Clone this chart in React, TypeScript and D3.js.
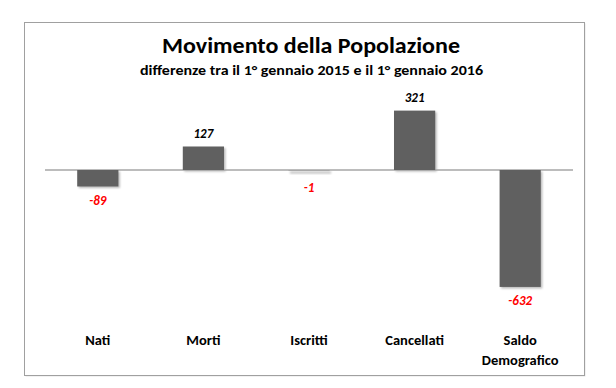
import React from "react";
import * as d3 from "d3";

const width = 616;
const height = 388;

const categories = ["Nati", "Morti", "Iscritti", "Cancellati", "Saldo Demografico"];
const values = [-89, 127, -1, 321, -632];

const title = "Movimento della Popolazione";
const subtitle = "differenze tra il 1° gennaio 2015 e il 1° gennaio 2016";

const plot = { left: 45, right: 573, zeroY: 170 };
const font = "Calibri, Carlito, Lato, sans-serif";

const App = () => {
  const x = d3
    .scaleBand()
    .domain(categories)
    .range([plot.left, plot.right])
    .paddingInner(0.61)
    .paddingOuter(0.305);

  // about 0.185px per person
  const k = 0.185;
  const y = d3
    .scaleLinear()
    .domain([-632, 321])
    .range([plot.zeroY + 632 * k, plot.zeroY - 321 * k]);

  return (
    <svg width={width} height={height} style={{ position: "absolute", left: 0, top: 0 }}>
      <defs>
        <filter id="blur" x="-20%" y="-50%" width="140%" height="200%">
          <feGaussianBlur stdDeviation="1" />
        </filter>
      </defs>
      <rect x={0} y={0} width={width} height={height} fill="#fff" />
      <rect x={25.5} y={23.5} width={560} height={353} fill="#e6e6e6" />
      <rect x={24.5} y={22.5} width={560} height={353} fill="#fff" stroke="#a0a0a0" strokeWidth={1} />

      <text
        x={311}
        y={53}
        textAnchor="middle"
        fontFamily={font}
        fontWeight="bold"
        fontSize={22}
        textLength={298}
        lengthAdjust="spacingAndGlyphs"
        fill="#000"
      >
        {title}
      </text>
      <text
        x={311.5}
        y={75}
        textAnchor="middle"
        fontFamily={font}
        fontWeight="bold"
        fontSize={14}
        textLength={343}
        lengthAdjust="spacingAndGlyphs"
        fill="#000"
      >
        {subtitle}
      </text>

      {categories.map((c, i) => {
        const v = values[i];
        const top = Math.min(y(0), y(v));
        const h = Math.abs(y(v) - y(0));
        return (
          <rect
            key={c + "-shadow"}
            x={(x(c) ?? 0) + 1.5}
            y={top + 1.5}
            width={x.bandwidth()}
            height={Math.max(h, 2)}
            fill="#000"
            opacity={0.28}
            filter="url(#blur)"
          />
        );
      })}

      <line x1={plot.left} x2={plot.right} y1={y(0)} y2={y(0)} stroke="#a6a6a6" strokeWidth={1.5} />

      {categories.map((c, i) => {
        const v = values[i];
        const y0 = y(0);
        const y1 = y(v);
        const top = Math.min(y0, y1);
        const h = Math.abs(y1 - y0);
        const cx = (x(c) ?? 0) + x.bandwidth() / 2;
        const neg = v < 0;
        return (
          <g key={c}>
            <rect x={x(c)} y={top} width={x.bandwidth()} height={h} fill="#606060" />
            <text
              x={cx}
              y={neg ? Math.max(y1, y0 + 3) + 18.5 : y1 - 9}
              textAnchor="middle"
              fontFamily={font}
              fontWeight="bold"
              fontStyle="italic"
              fontSize={13}
              fill={neg ? "#ff0000" : "#000"}
            >
              {v}
            </text>
          </g>
        );
      })}

      {categories.map((c) => {
        const cx = (x(c) ?? 0) + x.bandwidth() / 2;
        const words = c.split(" ");
        return (
          <text
            key={c}
            x={cx}
            y={345}
            textAnchor="middle"
            fontFamily={font}
            fontWeight="bold"
            fontSize={14.5}
            fill="#000"
          >
            {words.map((w, j) => (
              <tspan key={w} x={cx} dy={j === 0 ? 0 : 19.5}>
                {w}
              </tspan>
            ))}
          </text>
        );
      })}
    </svg>
  );
};

export default App;
